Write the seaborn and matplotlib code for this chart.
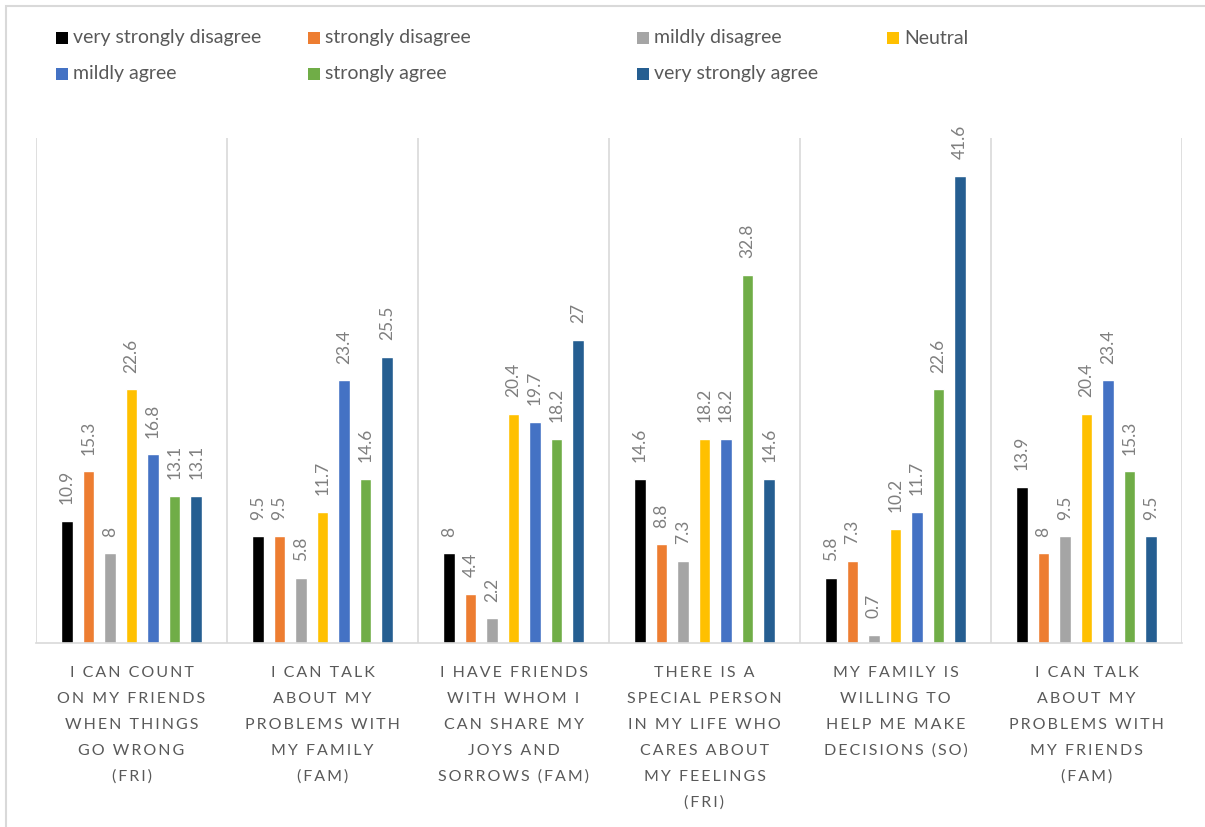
import matplotlib
matplotlib.use("Agg")
import matplotlib.pyplot as plt
import matplotlib.transforms as mtransforms
from matplotlib.patches import Rectangle
import pandas as pd
import seaborn as sns

# Response scale (legend order)
responses = [
    "very strongly disagree", "strongly disagree", "mildly disagree", "Neutral",
    "mildly agree", "strongly agree", "very strongly agree",
]
colors = ["#000000", "#ED7D31", "#A5A5A5", "#FFC000", "#4472C4", "#70AD47", "#255E91"]

# Survey statements (tick labels, with line breaks)
items = [
    "I CAN COUNT\nON MY FRIENDS\nWHEN THINGS\nGO WRONG\n(FRI)",
    "I CAN TALK\nABOUT MY\nPROBLEMS WITH\nMY FAMILY\n(FAM)",
    "I HAVE FRIENDS\nWITH WHOM I\nCAN SHARE MY\nJOYS AND\nSORROWS (FAM)",
    "THERE IS A\nSPECIAL PERSON\nIN MY LIFE WHO\nCARES ABOUT\nMY FEELINGS\n(FRI)",
    "MY FAMILY IS\nWILLING TO\nHELP ME MAKE\nDECISIONS (SO)",
    "I CAN TALK\nABOUT MY\nPROBLEMS WITH\nMY FRIENDS\n(FAM)",
]

# Percentages per response level, one value per statement
very_strongly_disagree = [10.9, 9.5, 8, 14.6, 5.8, 13.9]
strongly_disagree = [15.3, 9.5, 4.4, 8.8, 7.3, 8]
mildly_disagree = [8, 5.8, 2.2, 7.3, 0.7, 9.5]
neutral = [22.6, 11.7, 20.4, 18.2, 10.2, 20.4]
mildly_agree = [16.8, 23.4, 19.7, 18.2, 11.7, 23.4]
strongly_agree = [13.1, 14.6, 18.2, 32.8, 22.6, 15.3]
very_strongly_agree = [13.1, 25.5, 27, 14.6, 41.6, 9.5]

series = [very_strongly_disagree, strongly_disagree, mildly_disagree, neutral,
          mildly_agree, strongly_agree, very_strongly_agree]

rows = []
for resp, vals in zip(responses, series):
    for item, v in zip(items, vals):
        rows.append({"item": item, "response": resp, "pct": v})
df = pd.DataFrame(rows)

sns.set_theme(style="white")
plt.rcParams["font.family"] = ["Lato", "DejaVu Sans"]

W, H = 1205, 827
fig = plt.figure(figsize=(W / 100, H / 100), dpi=100)

# light outer frame of the chart area
fig.add_artist(Rectangle((6 / W, -0.2), 1.5, 1.2 - 6 / H, transform=fig.transFigure,
                         fill=False, edgecolor="#D9D9D9", linewidth=1.5))

left, right, bottom, top = 36, 1182, 643, 138
ax = fig.add_axes([left / W, 1 - bottom / H, (right - left) / W, (bottom - top) / H])

sns.barplot(data=df, x="item", y="pct", hue="response", order=items,
            hue_order=responses, palette=colors, saturation=1, width=0.79,
            gap=0.47, errorbar=None, legend=False, ax=ax)

ax.set_xlim(-0.5, len(items) - 0.5)
ax.set_ylim(0, 45)

# category separators
for x in range(len(items) + 1):
    ax.axvline(x - 0.5, color="#D9D9D9", linewidth=1.2, zorder=0)

for s in ["top", "right", "left"]:
    ax.spines[s].set_visible(False)
ax.spines["bottom"].set_color("#D9D9D9")
ax.spines["bottom"].set_linewidth(1.2)
ax.set_yticks([])
ax.set_xticks([])
ax.set_xlabel("")
ax.set_ylabel("")

# value labels above each bar
for cont in ax.containers:
    ax.bar_label(cont, fmt="{:g}", rotation=90, padding=12, color="#7F7F7F",
                 fontsize=12.5)

# spaced-out uppercase statement labels under each group, one text per line
gap_char = "\u2009"
base = mtransforms.blended_transform_factory(ax.transData, ax.transAxes)
first_baseline, line_step = 34, 26  # pixels below the axis line
for i, lab in enumerate(items):
    for j, line in enumerate(lab.split("\n")):
        shift = mtransforms.ScaledTranslation(
            0, -(first_baseline + line_step * j) / 100, fig.dpi_scale_trans)
        ax.text(i, 0, gap_char.join(list(line)), transform=base + shift,
                ha="center", va="baseline", fontsize=11.5, color="#595959")

# legend laid out in a 4-column grid across the top
col_x = [56, 308, 637, 887]
row_y = [38, 74]
for k, (resp, col) in enumerate(zip(responses, colors)):
    r, c = divmod(k, 4)
    x0, y0 = col_x[c], row_y[r]
    fig.add_artist(Rectangle((x0 / W, 1 - (y0 + 6) / H), 12 / W, 12 / H,
                             transform=fig.transFigure, facecolor=col, edgecolor="none"))
    fig.text((x0 + 17) / W, 1 - y0 / H, resp, ha="left", va="center",
             fontsize=14, color="#595959")

fig.savefig("out.png", dpi=100)
